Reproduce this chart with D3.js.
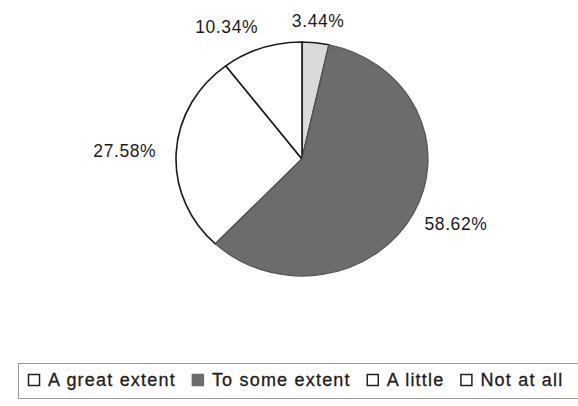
<!DOCTYPE html>
<html>
<head>
<meta charset="utf-8">
<script src="https://cdn.jsdelivr.net/npm/d3@7"></script>
<style>
  html, body { margin: 0; padding: 0; background: #fff; }
  svg { display: block; }
  text { font-family: "Liberation Sans", Arial, Helvetica, sans-serif; fill: #1c1c1c; }
</style>
</head>
<body>
<svg id="chart" width="578" height="406"></svg>
<script>
// Survey responses (share of respondents, %)
const categories = ["A great extent", "To some extent", "A little", "Not at all"];
const values = [3.44, 58.62, 27.58, 10.34];
const fills = ["#dadada", "#6c6c6c", "#ffffff", "#ffffff"];

const svg = d3.select("#chart");

// Slightly flattened pie (drawn as a circle and squashed vertically)
const cx = 302, cy = 159, rx = 126, ry = 117;
const data = categories.map((c, i) => ({ name: c, value: values[i], fill: fills[i], dark: i === 1 }));

const pie = d3.pie().sort(null).value(d => d.value);
const arcs = pie(data);
const arc = d3.arc().innerRadius(0).outerRadius(rx);

const g = svg.append("g")
  .attr("transform", `translate(${cx},${cy}) scale(1,${ry / rx})`);

// light slices first with dark outlines, the dark slice on top with its own edge
const ordered = arcs.slice().sort((a, b) => (a.data.dark ? 1 : 0) - (b.data.dark ? 1 : 0));
g.selectAll("path.slice")
  .data(ordered)
  .join("path")
  .attr("class", "slice")
  .attr("d", arc)
  .attr("fill", d => d.data.fill)
  .attr("stroke", d => d.data.dark ? "#555" : "#1a1a1a")
  .attr("stroke-width", d => d.data.dark ? 1.2 : 1.6)
  .attr("stroke-linejoin", "round")
  .attr("vector-effect", "non-scaling-stroke");

// Percentage labels just outside the rim
const fmt = v => v.toFixed(2) + "%";
const k = 1.19;
svg.append("g").selectAll("text.lbl")
  .data(arcs)
  .join("text")
  .attr("class", "lbl")
  .each(function (d) {
    const a = (d.startAngle + d.endAngle) / 2;
    const s = Math.sin(a), c = Math.cos(a);
    const anchor = Math.abs(s) < 0.3 ? "middle" : (s < 0 ? "end" : "start");
    let x = cx + s * rx * k;
    if (anchor === "start") x -= 10;
    if (anchor === "end") x += 4;
    const y = cy - c * ry * k;
    d3.select(this)
      .attr("x", x)
      .attr("y", y)
      .attr("text-anchor", anchor);
  })
  .attr("dominant-baseline", "central")
  .attr("font-size", 17.5)
  .attr("letter-spacing", 0.6)
  .text(d => fmt(d.data.value));

// Legend
const legend = svg.append("g");
legend.append("rect")
  .attr("x", 18.5).attr("y", 363.5)
  .attr("width", 600).attr("height", 35)
  .attr("fill", "none")
  .attr("stroke", "#9a9a9a")
  .attr("stroke-width", 1);

let lx = 28;
const ly = 380;
data.forEach(d => {
  const item = legend.append("g");
  item.append("rect")
    .attr("x", lx + 0.5).attr("y", ly - 5.5)
    .attr("width", 11).attr("height", 11)
    .attr("fill", d.dark ? d.fill : "#ffffff")
    .attr("stroke", d.dark ? d.fill : "#222")
    .attr("stroke-width", 1.5);
  const t = item.append("text")
    .attr("x", lx + 20)
    .attr("y", ly)
    .attr("dominant-baseline", "central")
    .attr("font-size", 18)
    .attr("letter-spacing", 1.2)
    .attr("stroke", "#1c1c1c")
    .attr("stroke-width", 0.3)
    .text(d.name);
  lx += 20 + t.node().getComputedTextLength() + 16;
});
</script>
</body>
</html>
